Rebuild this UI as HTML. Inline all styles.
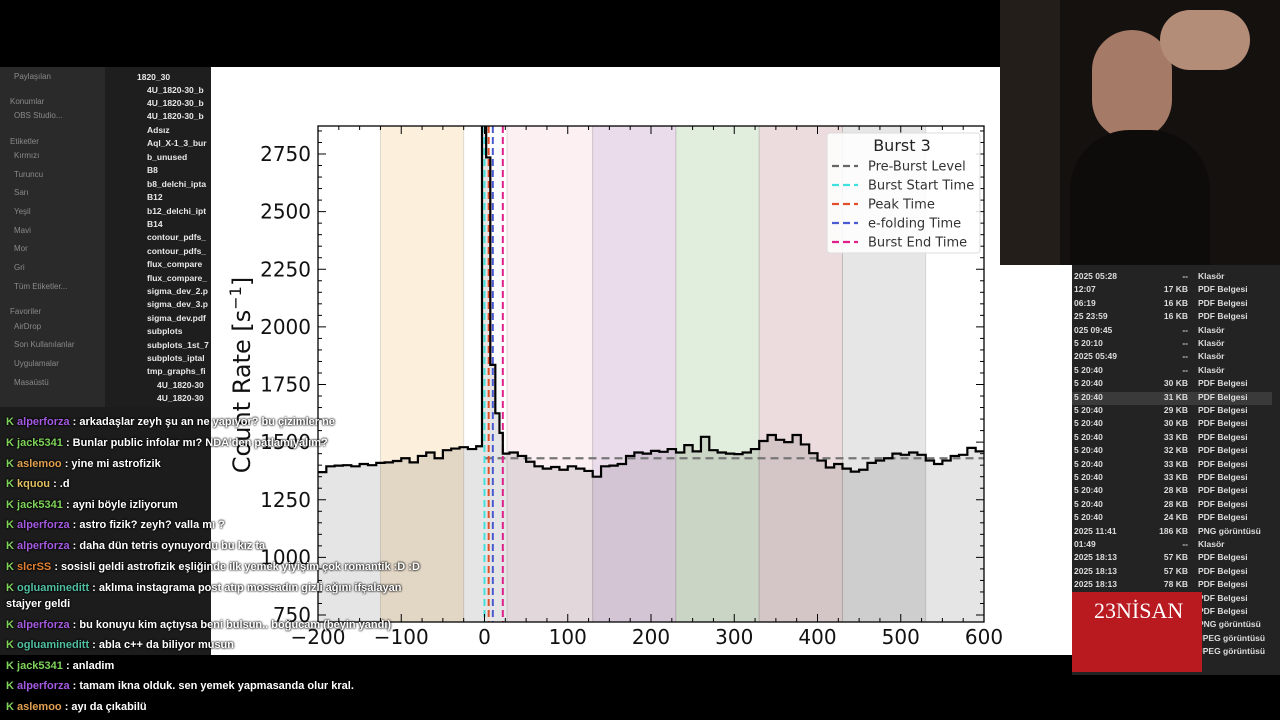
<!DOCTYPE html>
<html><head><meta charset="utf-8">
<style>
body{margin:0;width:1280px;height:720px;overflow:hidden;background:#000;font-family:"Liberation Sans","DejaVu Sans",sans-serif;position:relative}
.abs{position:absolute}
.side{left:0;top:67px;width:105px;height:340px;background:#2a2a2a;color:#8a8a8a;font-size:8px}
.side div{position:absolute;left:14px}
.files{left:105px;top:67px;width:106px;height:340px;background:#1e1e1e;color:#e8e8e8;font-size:8.5px;font-weight:bold}
.files div{position:absolute;left:42px;white-space:nowrap;overflow:hidden;width:62px}
.rlist{left:1072px;top:265px;width:208px;height:410px;background:#232323;color:#ddd;font-size:8.5px;font-weight:bold}
.rlist div{position:absolute;left:0;width:200px;height:13px;white-space:nowrap}
.rlist span{position:absolute}
.chat{left:6px;font-size:11px;font-weight:bold;color:#fff;white-space:nowrap;text-shadow:0 0 2px #000,0 0 2px #000}
.chat b{color:#7fd35a}
</style></head><body>
<div class="abs" style="left:0;top:0;width:1000px;height:67px;background:#000"></div>
<div class="abs side">
<div style="top:5px">Paylaşılan</div><div style="top:30px;left:10px">Konumlar</div><div style="top:44px">OBS Studio...</div>
<div style="top:70px;left:10px">Etiketler</div><div style="top:84px">Kırmızı</div><div style="top:103px">Turuncu</div><div style="top:121px">Sarı</div><div style="top:140px">Yeşil</div><div style="top:159px">Mavi</div><div style="top:177px">Mor</div><div style="top:196px">Gri</div><div style="top:215px">Tüm Etiketler...</div>
<div style="top:240px;left:10px">Favoriler</div><div style="top:255px">AirDrop</div><div style="top:273px">Son Kullanılanlar</div><div style="top:292px">Uygulamalar</div><div style="top:311px">Masaüstü</div>
</div>
<div class="abs files">
<div style="top:5px;left:32px">1820_30</div><div style="top:18px">4U_1820-30_b</div><div style="top:31px">4U_1820-30_b</div><div style="top:44px">4U_1820-30_b</div><div style="top:58px">Adsız</div><div style="top:71px">Aql_X-1_3_bur</div><div style="top:85px">b_unused</div><div style="top:98px">B8</div><div style="top:112px">b8_delchi_ipta</div><div style="top:125px">B12</div><div style="top:139px">b12_delchi_ipt</div><div style="top:152px">B14</div><div style="top:165px">contour_pdfs_</div><div style="top:179px">contour_pdfs_</div><div style="top:192px">flux_compare</div><div style="top:206px">flux_compare_</div><div style="top:219px">sigma_dev_2.p</div><div style="top:232px">sigma_dev_3.p</div><div style="top:246px">sigma_dev.pdf</div><div style="top:259px">subplots</div><div style="top:273px">subplots_1st_7</div><div style="top:286px">subplots_iptal</div><div style="top:299px">tmp_graphs_fi</div><div style="top:313px;left:52px">4U_1820-30</div><div style="top:326px;left:52px">4U_1820-30</div>
</div>
<div class="abs" style="left:0;top:407px;width:211px;height:248px;background:#1c1c1c"></div>
<div class="abs" style="left:211px;top:67px;width:861px;height:588px;background:#fff"></div>
<div class="abs" style="left:1000px;top:0;width:280px;height:265px;background:#241e1b;overflow:hidden">
<div class="abs" style="left:60px;top:0;width:220px;height:265px;background:#15110f"></div>
<div class="abs" style="left:92px;top:30px;width:80px;height:110px;border-radius:40px;background:#a57a66"></div>
<div class="abs" style="left:70px;top:130px;width:140px;height:135px;border-radius:60px 60px 0 0;background:#0e0c0b"></div>
<div class="abs" style="left:160px;top:10px;width:90px;height:60px;border-radius:30px;background:#b48d79"></div>
</div>
<div class="abs rlist" id="rl"></div>
<div class="abs" style="left:1072px;top:592px;width:130px;height:80px;background:#b81a20;color:#fff;font-family:'Liberation Serif',serif;font-size:22px"><span style="position:absolute;left:22px;top:6px">23NİSAN</span></div>
<svg class="abs" style="left:0;top:0" width="1280" height="720" id="ch"></svg>
<div class="abs" style="left:0;top:0">
<div class="abs chat" style="top:416px"><b>K</b> <span style="color:#a45ae0">alperforza</span> : arkadaşlar zeyh şu an ne yapıyor? bu çizimler ne</div>
<div class="abs chat" style="top:437px"><b>K</b> <span style="color:#7fd35a">jack5341</span> : Bunlar public infolar mı? NDA'den patlamıyalım?</div>
<div class="abs chat" style="top:458px"><b>K</b> <span style="color:#e0a050">aslemoo</span> : yine mi astrofizik</div>
<div class="abs chat" style="top:478px"><b>K</b> <span style="color:#e0c060">kquou</span> : .d</div>
<div class="abs chat" style="top:499px"><b>K</b> <span style="color:#7fd35a">jack5341</span> : ayni böyle izliyorum</div>
<div class="abs chat" style="top:519px"><b>K</b> <span style="color:#a45ae0">alperforza</span> : astro fizik? zeyh? valla mı ?</div>
<div class="abs chat" style="top:540px"><b>K</b> <span style="color:#a45ae0">alperforza</span> : daha dün tetris oynuyordu bu kız ta</div>
<div class="abs chat" style="top:561px"><b>K</b> <span style="color:#e08030">slcrSS</span> : sosisli geldi astrofizik eşliğinde ilk yemek yiyişim çok romantik :D :D</div>
<div class="abs chat" style="top:582px"><b>K</b> <span style="color:#50c0a0">ogluamineditt</span> : aklıma instagrama post atıp mossadın gizli ağını ifşalayan</div>
<div class="abs chat" style="top:598px">stajyer geldi</div>
<div class="abs chat" style="top:619px"><b>K</b> <span style="color:#a45ae0">alperforza</span> : bu konuyu kim açtıysa beni bulsun.. boğucam (beyin yandı)</div>
<div class="abs chat" style="top:639px"><b>K</b> <span style="color:#50c0a0">ogluamineditt</span> : abla c++ da biliyor musun</div>
<div class="abs chat" style="top:660px"><b>K</b> <span style="color:#7fd35a">jack5341</span> : anladim</div>
<div class="abs chat" style="top:680px"><b>K</b> <span style="color:#a45ae0">alperforza</span> : tamam ikna olduk. sen yemek yapmasanda olur kral.</div>
<div class="abs chat" style="top:701px"><b>K</b> <span style="color:#e0a050">aslemoo</span> : ayı da çıkabilü</div>
</div>
<script>
// ---- chart data ----
const times=[-200,-190,-180,-170,-160,-150,-140,-130,-120,-110,-100,-90,-80,-70,-60,-50,-40,-30,-20,-10,-3,2,7,13,18,22,30,40,50,60,70,80,90,100,110,120,130,140,150,160,170,180,190,200,210,220,230,240,250,260,270,280,290,300,310,320,330,340,350,360,370,380,390,400,410,420,430,440,450,460,470,480,490,500,510,520,530,540,550,560,570,580,590];
const counts=[1370,1395,1398,1400,1395,1405,1400,1410,1412,1418,1430,1412,1440,1455,1430,1465,1472,1478,1470,1482,2950,2735,1835,1625,1540,1450,1455,1440,1415,1395,1385,1392,1380,1395,1385,1375,1350,1395,1398,1405,1440,1455,1450,1462,1458,1470,1455,1487,1460,1523,1465,1455,1450,1448,1455,1470,1505,1531,1510,1500,1531,1490,1452,1420,1390,1405,1385,1372,1380,1410,1420,1430,1450,1445,1455,1445,1420,1405,1420,1440,1445,1475,1460];
const tEnd=600;
const bandStart=[-125,27,130,230,330,430];
const bandEnd=[-25,130,230,330,430,530];
const bandColor=['#fcefdc','#fcf0f3','#ebdceb','#e1eedd','#eddcdd','#e6e6e6'];
const preBurst=1430;
const vlineTimes=[0,5,10,22];
const vlineColors=['#40e0e0','#e0502a','#4a5ad0','#e0208a'];
const xTicks=[-200,-100,0,100,200,300,400,500,600];
const yTicks=[750,1000,1250,1500,1750,2000,2250,2500,2750];
const legendLabels=['Pre-Burst Level','Burst Start Time','Peak Time','e-folding Time','Burst End Time'];
const legendColors=['#666','#40e0e0','#e0502a','#4a5ad0','#e0208a'];
// ---- axes ----
const L=318,R=984,T=126,B=622;
const X=v=>L+(v+200)*(R-L)/800;
const Y=v=>154+(2750-v)*0.2305;
const NS='http://www.w3.org/2000/svg';
const svg=document.getElementById('ch');
function mk(tag,attrs,parent){const e=document.createElementNS(NS,tag);for(const k in attrs)e.setAttribute(k,attrs[k]);(parent||svg).appendChild(e);return e;}
const defs=mk('defs',{});const cp=mk('clipPath',{id:'pc'},defs);mk('rect',{x:L,y:T,width:R-L,height:B-T},cp);
const g=mk('g',{'clip-path':'url(#pc)'});
for(let i=0;i<bandStart.length;i++){
 const r=mk('rect',{x:X(bandStart[i]),y:T,width:X(bandEnd[i])-X(bandStart[i]),height:B-T,fill:bandColor[i],stroke:'rgba(0,0,0,0.12)','stroke-width':1},g);
 
 
}
let d='M'+X(times[0])+','+Y(counts[0]);
for(let i=0;i<times.length;i++){const t1=i+1<times.length?times[i+1]:tEnd;d+=' H'+X(t1);if(i+1<times.length)d+=' V'+Y(counts[i+1]);}
const fill=mk('path',{d:d+' V'+B+' H'+X(times[0])+' Z',fill:'rgba(0,0,0,0.1)'},g);


const pb=mk('line',{x1:X(0),x2:X(600),y1:Y(preBurst),y2:Y(preBurst),stroke:'#777','stroke-width':2.2,'stroke-dasharray':'8,5'},g);


for(let i=0;i<vlineTimes.length;i++){
 const l=mk('line',{x1:X(vlineTimes[i]),x2:X(vlineTimes[i]),y1:T,y2:B,stroke:vlineColors[i],'stroke-width':2,'stroke-dasharray':'7,4'},g);
 
 
}
const cur=mk('path',{d:d,fill:'none',stroke:'#000','stroke-width':2.2},g);


mk('rect',{x:L,y:T,width:R-L,height:B-T,fill:'none',stroke:'#000','stroke-width':1.3});
for(let v=750;v<=2850;v+=50){const y=Y(v);if(y<T||y>B)continue;const len=v%250===0?8:4;mk('line',{x1:L,x2:L+len,y1:y,y2:y,stroke:'#000'});mk('line',{x1:R,x2:R-len,y1:y,y2:y,stroke:'#000'});}
for(let v=-200;v<=600;v+=25){const x=X(v);const len=v%100===0?8:4;mk('line',{x1:x,x2:x,y1:B,y2:B-len,stroke:'#000'});mk('line',{x1:x,x2:x,y1:T,y2:T+len,stroke:'#000'});}
yTicks.forEach(v=>{const t=mk('text',{x:L-7,y:Y(v)+7,'text-anchor':'end','font-size':20,fill:'#111','font-family':'DejaVu Sans,sans-serif'});t.textContent=v;
 
 });
xTicks.forEach(v=>{const t=mk('text',{x:X(v),y:644,'text-anchor':'middle','font-size':20,fill:'#111','font-family':'DejaVu Sans,sans-serif'});t.textContent=(v<0?'\u2212'+(-v):v);
 
 });
const yt=mk('text',{x:250,y:375,transform:'rotate(-90 250 375)','text-anchor':'middle','font-size':24,fill:'#111','font-family':'DejaVu Sans,sans-serif'});
yt.innerHTML='Count Rate [s<tspan dy="-9" font-size="16">\u22121</tspan><tspan dy="9">]</tspan>';


const lg=mk('g',{});


mk('rect',{x:827,y:133,width:153,height:120,rx:3,fill:'rgba(255,255,255,0.85)',stroke:'#ddd'},lg);
const lt=mk('text',{x:902,y:151,'text-anchor':'middle','font-size':16,fill:'#222','font-family':'DejaVu Sans,sans-serif'},lg);lt.textContent='Burst 3';
legendLabels.forEach((s,i)=>{const y=166+i*19;
 mk('line',{x1:832,x2:858,y1:y,y2:y,stroke:legendColors[i],'stroke-width':2.2,'stroke-dasharray':'7,4'},lg);
 const t=mk('text',{x:868,y:y+4.5,'font-size':13,fill:'#333','font-family':'DejaVu Sans,sans-serif'},lg);t.textContent=s;
 
 });
const rows=[['2025 05:28','--','Klasör'],['12:07','17 KB','PDF Belgesi'],['06:19','16 KB','PDF Belgesi'],['25 23:59','16 KB','PDF Belgesi'],['025 09:45','--','Klasör'],['5 20:10','--','Klasör'],['2025 05:49','--','Klasör'],['5 20:40','--','Klasör'],['5 20:40','30 KB','PDF Belgesi'],['5 20:40','31 KB','PDF Belgesi'],['5 20:40','29 KB','PDF Belgesi'],['5 20:40','30 KB','PDF Belgesi'],['5 20:40','33 KB','PDF Belgesi'],['5 20:40','32 KB','PDF Belgesi'],['5 20:40','33 KB','PDF Belgesi'],['5 20:40','33 KB','PDF Belgesi'],['5 20:40','28 KB','PDF Belgesi'],['5 20:40','28 KB','PDF Belgesi'],['5 20:40','24 KB','PDF Belgesi'],['2025 11:41','186 KB','PNG görüntüsü'],['01:49','--','Klasör'],['2025 18:13','57 KB','PDF Belgesi'],['2025 18:13','57 KB','PDF Belgesi'],['2025 18:13','78 KB','PDF Belgesi'],['','','PDF Belgesi'],['','','PDF Belgesi'],['','','PNG görüntüsü'],['','','JPEG görüntüsü'],['','','JPEG görüntüsü']];
const rl=document.getElementById('rl');
rows.forEach((r,i)=>{const dv=document.createElement('div');dv.style.top=(6+i*13.4)+'px';if(i===9)dv.style.background='#3a3a3a';
 dv.innerHTML='<span style="left:2px">'+r[0]+'</span><span style="left:56px;width:60px;text-align:right">'+r[1]+'</span><span style="left:126px">'+r[2]+'</span>';
 
 
 rl.appendChild(dv);});
</script>
</body></html>
